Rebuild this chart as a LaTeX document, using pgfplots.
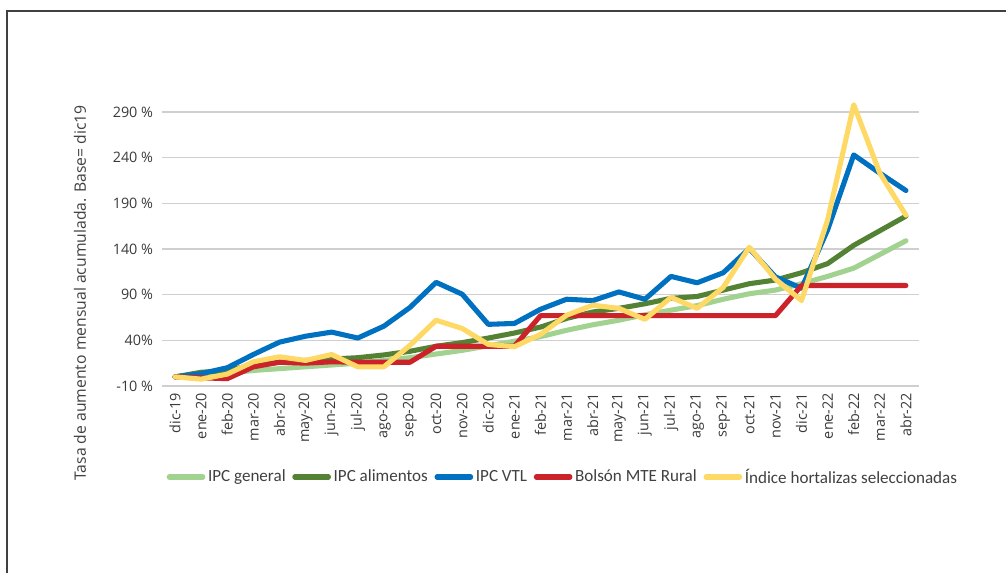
\documentclass[border=0pt]{standalone}
\usepackage{pgfplots}
\pgfplotsset{compat=1.18}
\usepackage{fontspec}
\setmainfont{Open Sans}
\newfontfamily\legfont{Carlito}
\definecolor{cgen}{HTML}{A2D28F}
\definecolor{calim}{HTML}{548235}
\definecolor{cvtl}{HTML}{0070C0}
\definecolor{cbol}{HTML}{CC2229}
\definecolor{chort}{HTML}{FFD966}
\definecolor{gridc}{HTML}{CFCFCF}
\definecolor{txt}{HTML}{404040}
\begin{document}
\begin{tikzpicture}[x=0.75pt,y=0.75pt]
\path[use as bounding box] (0,0) rectangle (1006,573);
\draw[line width=1.1pt, color=black!75] (7,0) -- (7,562) -- (1006,562);
\node[rotate=90, font=\fontsize{11.8}{13}\selectfont, text=txt] at (80,280) {Tasa de aumento mensual acumulada. Base= dic19};
\begin{axis}[
  at={(121.5pt,140.25pt)}, anchor=south west, scale only axis,
  width=567.75pt, height=205.5pt,
  xmin=-0.5, xmax=28.5, ymin=-10, ymax=290,
  clip=false,
  axis line style={draw=none},
  major tick length=0pt,
  ytick={-10,40,90,140,190,240,290},
  yticklabels={-10 \%,40\%,90 \%,140 \%,190 \%,240 \%,290 \%},
  xtick={0,...,28},
  xticklabels={dic-19,ene-20,feb-20,mar-20,abr-20,may-20,jun-20,jul-20,ago-20,sep-20,oct-20,nov-20,dic-20,ene-21,feb-21,mar-21,abr-21,may-21,jun-21,jul-21,ago-21,sep-21,oct-21,nov-21,dic-21,ene-22,feb-22,mar-22,abr-22},
  ymajorgrids,
  grid style={line width=1.1pt, color=gridc},
  x tick label style={rotate=90, anchor=east, inner sep=0pt, font=\fontsize{10.8}{12}\selectfont, text=txt!90!black},
  y tick label style={anchor=east, inner sep=0pt, font=\fontsize{10.8}{12}\selectfont, text=txt!90!black},
  xticklabel shift=5pt,
  yticklabel shift=6.5pt,
  every axis plot/.append style={line width=3.8pt, line join=round, line cap=round, mark=none},
  legend columns=-1,
  legend style={at={(axis description cs:0.53,-0.332)}, anchor=center, draw=none, fill=none,
    font=\legfont\fontsize{12.8}{14}\selectfont, text=txt,
    /tikz/every even column/.append style={column sep=3pt},
    inner sep=0pt},
  legend image code/.code={\draw[#1, line width=4pt, line cap=round] (2pt,0pt) -- (27pt,0pt);},
]
\addplot[cgen] coordinates {(0,0)(1,2)(2,4)(3,7)(4,9)(5,11)(6,13)(7,15)(8,18)(9,21)(10,25)(11,29)(12,34)(13,39)(14,44)(15,51)(16,57)(17,62)(18,68)(19,73)(20,78)(21,85)(22,91)(23,95)(24,102)(25,110)(26,119)(27,134)(28,149)};
\addlegendentry{IPC general}
\addplot[calim] coordinates {(0,0)(1,5)(2,7)(3,13)(4,16)(5,18)(6,19.5)(7,21)(8,24)(9,28)(10,33.5)(11,37.5)(12,42.5)(13,48)(14,54.5)(15,64)(16,71)(17,75)(18,80)(19,86)(20,88)(21,95)(22,102)(23,106)(24,114)(25,124)(26,144)(27,160)(28,176)};
\addlegendentry{IPC alimentos}
\addplot[cvtl] coordinates {(0,0)(1,3.5)(2,10)(3,24.5)(4,38)(5,44.5)(6,49)(7,42.5)(8,55.5)(9,76)(10,103.5)(11,90.5)(12,57.5)(13,58.5)(14,74)(15,85)(16,83.5)(17,93)(18,85)(19,110)(20,103)(21,114)(22,140.5)(23,109.5)(24,97)(25,161)(26,243)(27,223)(28,204)};
\addlegendentry{IPC VTL}
\addplot[cbol] coordinates {(0,0)(1,-1)(2,-2)(3,11)(4,16)(5,15)(6,16.5)(7,16)(8,16)(9,16)(10,33.5)(11,33.5)(12,33.5)(13,33.5)(14,67)(15,67)(16,67)(17,67)(18,67)(19,67)(20,67)(21,67)(22,67)(23,67)(24,100)(25,100)(26,100)(27,100)(28,100)};
\addlegendentry{Bolsón MTE Rural}
\addplot[chort] coordinates {(0,0)(1,-2.5)(2,3)(3,16.5)(4,22)(5,18)(6,24.5)(7,11)(8,11)(9,34.5)(10,62)(11,53)(12,35.5)(13,33)(14,46.5)(15,67.5)(16,78.5)(17,75)(18,63)(19,87)(20,75)(21,98)(22,142)(23,107)(24,83.5)(25,172)(26,298)(27,223)(28,177)};
\addlegendentry{Índice hortalizas seleccionadas}
\end{axis}
\end{tikzpicture}
\end{document}
